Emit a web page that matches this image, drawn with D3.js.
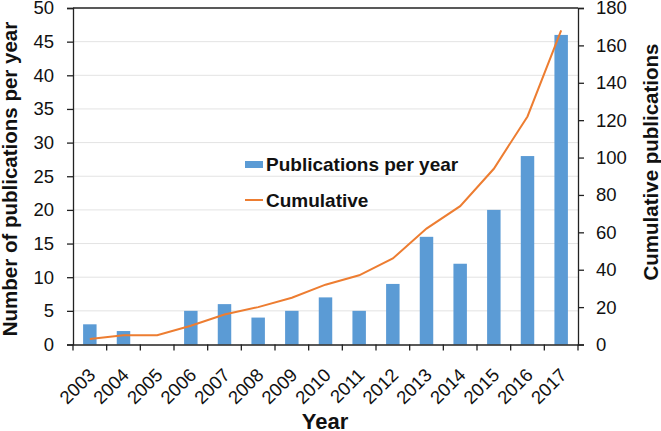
<!DOCTYPE html>
<html><head><meta charset="utf-8">
<script src="https://cdn.jsdelivr.net/npm/d3@7"></script>
<style>body{margin:0;background:#fff}svg{display:block}text{font-family:"Liberation Sans",Arial,sans-serif}</style>
</head><body><svg id="c" width="661" height="431"></svg>
<script>
const years = ["2003","2004","2005","2006","2007","2008","2009","2010","2011","2012","2013","2014","2015","2016","2017"];
const perYear = [3,2,0,5,6,4,5,7,5,9,16,12,20,28,46];
const cumulative = [3,5,5,10,16,20,25,32,37,46,62,74,94,122,168];
const leftTicks = [0,5,10,15,20,25,30,35,40,45,50];
const rightTicks = [0,20,40,60,80,100,120,140,160,180];

const svg = d3.select("#c");
const L = 73, R = 578, T = 8, B = 344.5;
const x = d3.scaleBand().domain(years).range([L, R]).paddingInner(0).paddingOuter(0);
const yL = d3.scaleLinear().domain([0,50]).range([B, T]);
const yR = d3.scaleLinear().domain([0,180]).range([B, T]);

// gridlines
svg.append("g").selectAll("line").data(leftTicks.filter(d=>d>0 && d<50)).join("line")
  .attr("x1", L).attr("x2", R).attr("y1", d=>yL(d)).attr("y2", d=>yL(d))
  .attr("stroke", "#e3e3e3").attr("stroke-width", 1);

// bars
const bw = x.bandwidth()/2.5;
svg.append("g").selectAll("rect").data(years).join("rect")
  .attr("x", (d)=>x(d)+x.bandwidth()/2-bw/2)
  .attr("width", bw)
  .attr("y", (d,i)=>yL(perYear[i]))
  .attr("height", (d,i)=>B-yL(perYear[i]))
  .attr("fill", "#5b9bd5");

// line
const line = d3.line().x((d,i)=>x(years[i])+x.bandwidth()/2).y(d=>yR(d));
svg.append("path").datum(cumulative).attr("d", line)
  .attr("fill","none").attr("stroke","#ed7d31").attr("stroke-width",2);

// top border
svg.append("line").attr("x1",L).attr("x2",R).attr("y1",T).attr("y2",T).attr("stroke","#222").attr("stroke-width",1.3);

// axes
const fs = "18.5px";
const gl = svg.append("g").attr("transform",`translate(${L},0)`)
  .call(d3.axisLeft(yL).tickValues(leftTicks).tickSize(6).tickPadding(13));
const gr = svg.append("g").attr("transform",`translate(${R},0)`)
  .call(d3.axisRight(yR).tickValues(rightTicks).tickSize(6).tickPadding(12));
const gx = svg.append("g").attr("transform",`translate(0,${B})`)
  .call(d3.axisBottom(x).tickSize(0).tickFormat(d=>d));
[gl,gr,gx].forEach(g=>{
  g.select(".domain").attr("stroke","#222").attr("stroke-width",1.3);
  g.selectAll(".tick line").attr("stroke","#222").attr("stroke-width",1.3);
  g.selectAll("text").attr("font-size",fs).attr("fill","#111").attr("font-family","Liberation Sans, Arial, sans-serif");
});
// x boundary ticks
svg.append("g").selectAll("line").data(d3.range(years.length+1)).join("line")
  .attr("x1", i=>L + i*x.step()).attr("x2", i=>L + i*x.step())
  .attr("y1", B).attr("y2", B+6).attr("stroke","#222").attr("stroke-width",1.3);
gx.selectAll(".tick text")
  .attr("text-anchor","end").attr("dy",null).attr("y",0)
  .attr("transform","translate(-3,22) rotate(-45)")
  .attr("dominant-baseline","hanging");

// axis titles
svg.append("text").attr("transform",`translate(17,179) rotate(-90)`)
  .attr("text-anchor","middle").attr("font-size","20.5px").attr("font-weight","bold").attr("fill","#111")
  .text("Number of publications per year");
svg.append("text").attr("transform",`translate(658,162) rotate(-90)`)
  .attr("text-anchor","middle").attr("font-size","20.5px").attr("font-weight","bold").attr("fill","#111")
  .text("Cumulative publications");
svg.append("text").attr("x",325).attr("y",429)
  .attr("text-anchor","middle").attr("font-size","22px").attr("font-weight","bold").attr("fill","#111")
  .text("Year");

// legend
const lg = svg.append("g");
lg.append("rect").attr("x",245).attr("y",161).attr("width",18).attr("height",7).attr("fill","#5b9bd5");
lg.append("text").attr("x",266).attr("y",170.5).attr("font-size","19px").attr("font-weight","bold").attr("fill","#111").text("Publications per year");
lg.append("line").attr("x1",245).attr("x2",263).attr("y1",200).attr("y2",200).attr("stroke","#ed7d31").attr("stroke-width",2);
lg.append("text").attr("x",266).attr("y",206.5).attr("font-size","19px").attr("font-weight","bold").attr("fill","#111").text("Cumulative");
</script></body></html>
